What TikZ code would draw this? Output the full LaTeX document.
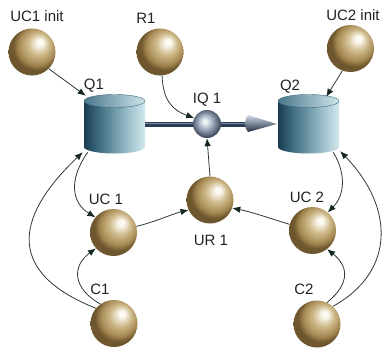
\documentclass[tikz,border=0pt]{standalone}
\usepackage{fontspec}
\setmainfont{Liberation Sans}
\usetikzlibrary{arrows.meta}
\definecolor{gwhite}{RGB}{252,250,242}
\definecolor{gmid}{RGB}{208,188,142}
\definecolor{gdark}{RGB}{165,136,82}
\definecolor{gedge}{RGB}{110,86,46}
\definecolor{iqw}{RGB}{240,243,247}
\definecolor{iqm}{RGB}{160,172,190}
\definecolor{iqd}{RGB}{70,80,100}
\definecolor{cyla}{RGB}{25,60,80}
\definecolor{cylb}{RGB}{60,105,125}
\definecolor{cylc}{RGB}{130,170,185}
\definecolor{cyld}{RGB}{212,233,238}
\definecolor{topa}{RGB}{75,120,140}
\definecolor{topb}{RGB}{205,228,234}
\definecolor{tubed}{RGB}{45,60,85}
\definecolor{tubel}{RGB}{125,142,165}
\definecolor{conel}{RGB}{210,220,232}
\definecolor{conem}{RGB}{150,165,185}
\definecolor{coned}{RGB}{35,45,65}
\definecolor{linec}{RGB}{45,58,58}
\definecolor{tipc}{RGB}{20,40,32}
\definecolor{labc}{RGB}{35,35,35}
\pgfdeclareradialshading{goldball}{\pgfqpoint{9bp}{11bp}}{color(0bp)=(gwhite); color(3bp)=(gwhite); color(11bp)=(gmid); color(20bp)=(gdark); color(25bp)=(gedge); color(50bp)=(gedge)}
\pgfdeclareradialshading{iqball}{\pgfqpoint{-4bp}{5bp}}{color(0bp)=(iqw); color(3bp)=(iqw); color(13bp)=(iqm); color(25bp)=(iqd); color(50bp)=(iqd)}
\pgfdeclarehorizontalshading{cylbody}{100bp}{color(0bp)=(cyla); color(25bp)=(cyla); color(36bp)=(cylb); color(55bp)=(cylc); color(75bp)=(cyld); color(100bp)=(cyld)}
\pgfdeclarehorizontalshading{cyltop}{100bp}{color(0bp)=(topa); color(25bp)=(topa); color(75bp)=(topb); color(100bp)=(topb)}
\begin{document}
\begin{tikzpicture}[x=1pt,y=-1pt,
  ball/.style={circle,minimum size=47pt,inner sep=0pt,shade,shading=goldball},
  iq/.style={circle,minimum size=28pt,inner sep=0pt,shade,shading=iqball},
  tank/.style={rectangle,minimum width=61pt,minimum height=58pt,inner sep=0pt},
  lbl/.style={font=\fontsize{15}{15}\selectfont,text=labc,inner sep=0pt},
  conn/.style={draw=linec,line width=0.8pt,-{Latex[length=8pt,width=6.5pt,color=tipc]}}]
\useasboundingbox[fill=white] (0,0) rectangle (385,351);

% tanks
\node[tank] (Q1) at (114.5,124) {};
\node[tank] (Q2) at (308.5,124) {};
\shade[shading=cylbody] (84,101) rectangle (145,147);
\shade[shading=cylbody] (114.5,147) ellipse [x radius=30.5pt, y radius=6.5pt];
\shade[shading=cyltop,draw=cylb,line width=0.4pt] (114.5,101) ellipse [x radius=30.5pt, y radius=6.5pt];
\shade[shading=cylbody] (278,101) rectangle (339,147);
\shade[shading=cylbody] (308.5,147) ellipse [x radius=30.5pt, y radius=6.5pt];
\shade[shading=cyltop,draw=cylb,line width=0.4pt] (308.5,101) ellipse [x radius=30.5pt, y radius=6.5pt];

% tube and cone
\coordinate (tubeend) at (248,124);
\draw[line width=5pt,tubed] (Q1.east) -- (tubeend);
\draw[line width=1.4pt,tubel] ([yshift=0.6pt]Q1.east) -- ([yshift=0.6pt]tubeend);
\shade[top color=conel,middle color=conem,bottom color=coned]
  (248,115) -- ([xshift=-1pt]Q2.west) -- (248,132) .. controls (244,128) and (244,119) .. cycle;

% balls
\node[ball] (UC1i) at (32,52) {};
\node[ball] (R1) at (160,52) {};
\node[ball] (UC2i) at (350.5,48.5) {};
\node[iq] (IQ1) at (207,124) {};
\node[ball] (UC1) at (113.5,232.5) {};
\node[ball] (UR1) at (210,200) {};
\node[ball] (UC2) at (312.5,230.5) {};
\node[ball] (C1) at (114,323.5) {};
\node[ball] (C2) at (317,324) {};

% labels
\node[lbl] (lUC1i) at (37,16) {UC1 init};
\node[lbl] (lR1) at (146,18) {R1};
\node[lbl] (lUC2i) at (353,15) {UC2 init};
\node[lbl] (lQ1) at (94,86) {Q1};
\node[lbl] (lQ2) at (290,87) {Q2};
\node[lbl] (lIQ1) at (207,100) {IQ 1};
\node[lbl] (lUC1) at (106,199) {UC 1};
\node[lbl] (lUR1) at (211,240) {UR 1};
\node[lbl] (lUC2) at (307,197) {UC 2};
\node[lbl] (lC1) at (100,289) {C1};
\node[lbl] (lC2) at (304,289) {C2};

% connectors
\draw[conn] (UC1i.-45) -- ([xshift=2pt,yshift=-1pt]Q1.north west);
\draw[conn] (R1.-85) .. controls (163,100) and (172,110) .. (IQ1.155);
\draw[conn] (UC2i.-110) -- ([xshift=-13pt,yshift=-2pt]Q2.north east);
\draw[conn] (UR1.north) -- (IQ1.south);
\draw[conn] ([xshift=4pt,yshift=1pt]Q1.south west) .. controls (68,180) and (72,203) .. (UC1.140);
\draw[conn] (C1.140) .. controls (0,270) and (20,212) .. ([xshift=-1pt,yshift=1pt]Q1.south west);
\draw[conn] (C1.125) .. controls (72,288) and (72,266) .. (UC1.222);
\draw[conn] (UC1.15) .. controls (155,222) and (172,214) .. (UR1.205);
\draw[conn] (UC2.165) .. controls (272,219) and (252,212) .. (UR1.-20);
\draw[conn] ([xshift=-6pt,yshift=1pt]Q2.south east) .. controls (347,175) and (344,196) .. (UC2.50);
\draw[conn] (C2.48) .. controls (395,272) and (395,208) .. ([xshift=1pt,yshift=2pt]Q2.south east);
\draw[conn] (C2.65) .. controls (352,282) and (347,265) .. (UC2.-52);
\end{tikzpicture}
\end{document}
